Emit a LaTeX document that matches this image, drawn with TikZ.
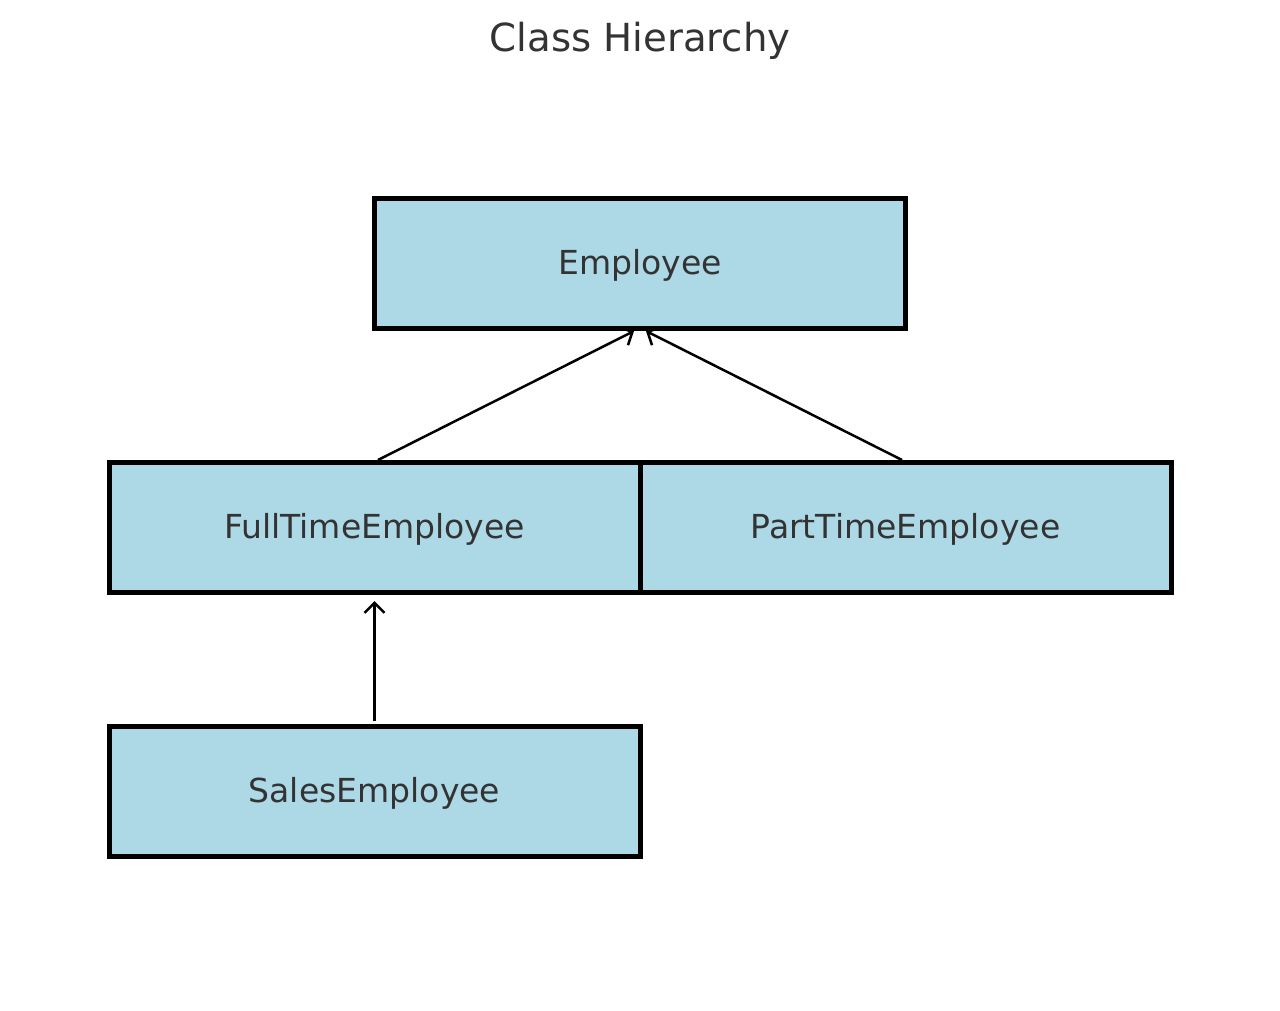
\documentclass[tikz,border=0pt]{standalone}
\usepackage{fontspec}
\setmainfont{DejaVu Sans}
\usetikzlibrary{arrows.meta}
\definecolor{boxblue}{HTML}{ADD8E6}
\definecolor{textgray}{HTML}{333333}
\begin{document}
\begin{tikzpicture}[
  classbox/.style = {draw = black, fill = boxblue, line width = 0.1cm,
    minimum width = 10.62cm, minimum height = 2.6cm, inner sep = 0pt,
    text height = 0.6cm, text depth = 0.156cm,
    text = textgray, font = \fontsize{18.8}{22}\selectfont},
  inherit/.style = {line width = 0.05cm, -{Straight Barb[length = 0.2cm, width = 0.4cm]}}
]
\useasboundingbox (0,0) rectangle (25.6,-20.2);
\node [text = textgray, font = \fontsize{22}{26}\selectfont] (title) at (12.8, -0.82) {Class Hierarchy};
\node [classbox] (emp) at (12.8, -5.27) {Employee};
\node [classbox] (full) at (7.49, -10.55) {FullTimeEmployee};
\node [classbox] (part) at (18.11, -10.55) {PartTimeEmployee};
\node [classbox] (sales) at (7.49, -15.83) {SalesEmployee};
\draw [inherit] ([xshift = 0.07cm]full.north) -- ([xshift = -0.12cm]emp.south); % subclass links
\draw [inherit] ([xshift = -0.07cm]part.north) -- ([xshift = 0.12cm]emp.south);
\draw [inherit, shorten < = 0.06cm, shorten > = 0.12cm] (sales.north) -- (full.south);
\end{tikzpicture}
\end{document}
